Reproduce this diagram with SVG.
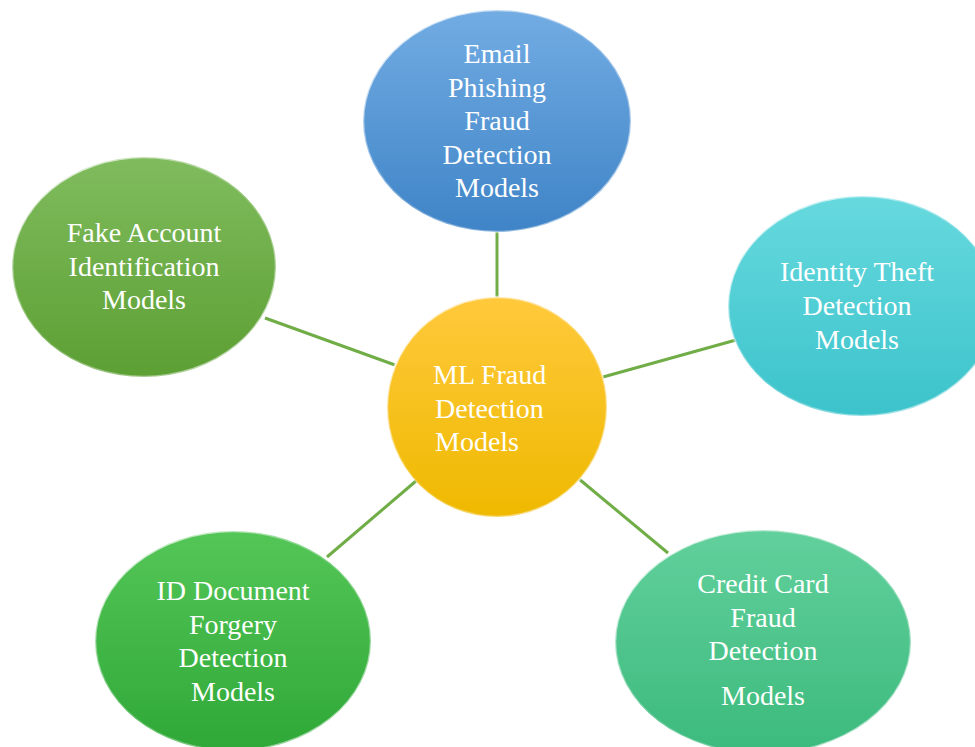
<svg xmlns="http://www.w3.org/2000/svg" width="975" height="747" viewBox="0 0 975 747">
<defs>
<linearGradient id="gBlue" x1="0" y1="0" x2="0" y2="1"><stop offset="0" stop-color="#72ace3"/><stop offset="1" stop-color="#3f84c7"/></linearGradient>
<linearGradient id="gYellow" x1="0" y1="0" x2="0" y2="1"><stop offset="0" stop-color="#ffc93c"/><stop offset="1" stop-color="#efb900"/></linearGradient>
<linearGradient id="gCyan" x1="0" y1="0" x2="0" y2="1"><stop offset="0" stop-color="#66d9de"/><stop offset="1" stop-color="#3cc3cb"/></linearGradient>
<linearGradient id="gOlive" x1="0" y1="0" x2="0" y2="1"><stop offset="0" stop-color="#80bc5e"/><stop offset="1" stop-color="#5c9f33"/></linearGradient>
<linearGradient id="gGreen" x1="0" y1="0" x2="0" y2="1"><stop offset="0" stop-color="#54c657"/><stop offset="1" stop-color="#2fa838"/></linearGradient>
<linearGradient id="gMint" x1="0" y1="0" x2="0" y2="1"><stop offset="0" stop-color="#62d09c"/><stop offset="1" stop-color="#3cba7d"/></linearGradient>
<linearGradient id="rim" x1="0" y1="0" x2="1" y2="1"><stop offset="0" stop-color="#ffffff" stop-opacity="0.9"/><stop offset="0.5" stop-color="#ffffff" stop-opacity="0.2"/><stop offset="1" stop-color="#ffffff" stop-opacity="0.7"/></linearGradient>
</defs>
<style>
.node ellipse{stroke:url(#rim);stroke-width:2.5}
.lbl{font-family:'Times New Roman','Liberation Serif','DejaVu Serif',serif;font-size:28px;fill:#ffffff;text-anchor:middle}
.links line{stroke:#70ad47;stroke-width:3}
</style>
<rect width="975" height="747" fill="#ffffff"/>
<g class="links">
<line x1="497" y1="230" x2="497" y2="299"/>
<line x1="265" y1="318" x2="395" y2="365"/>
<line x1="603" y1="377" x2="736" y2="340"/>
<line x1="416" y1="481" x2="327" y2="557"/>
<line x1="579" y1="479" x2="668" y2="553"/>
</g>
<g id="email" class="node">
<ellipse cx="497" cy="121" rx="134" ry="111" fill="url(#gBlue)"/>
<text class="lbl"><tspan x="497" y="63">Email</tspan><tspan x="497" y="97">Phishing</tspan><tspan x="497" y="130">Fraud</tspan><tspan x="497" y="164">Detection</tspan><tspan x="497" y="197">Models</tspan></text>
</g>
<g id="fake" class="node">
<ellipse cx="144" cy="267" rx="132" ry="110" fill="url(#gOlive)"/>
<text class="lbl"><tspan x="144" y="242">Fake Account</tspan><tspan x="144" y="276">Identification</tspan><tspan x="144" y="309">Models</tspan></text>
</g>
<g id="identity" class="node">
<ellipse cx="862" cy="306" rx="134" ry="110" fill="url(#gCyan)"/>
<text class="lbl"><tspan x="857" y="281">Identity Theft</tspan><tspan x="857" y="315">Detection</tspan><tspan x="857" y="349">Models</tspan></text>
</g>
<g id="iddoc" class="node">
<ellipse cx="233" cy="641" rx="138" ry="110" fill="url(#gGreen)"/>
<text class="lbl"><tspan x="233" y="600">ID Document</tspan><tspan x="233" y="634">Forgery</tspan><tspan x="233" y="667">Detection</tspan><tspan x="233" y="701">Models</tspan></text>
</g>
<g id="credit" class="node">
<ellipse cx="763" cy="642" rx="148" ry="112" fill="url(#gMint)"/>
<text class="lbl"><tspan x="763" y="593">Credit Card</tspan><tspan x="763" y="627">Fraud</tspan><tspan x="763" y="660">Detection</tspan><tspan x="763" y="705">Models</tspan></text>
</g>
<g id="center" class="node">
<ellipse cx="497" cy="407" rx="110" ry="110" fill="url(#gYellow)"/>
<text class="lbl" style="text-anchor:start"><tspan x="433" y="384">ML Fraud</tspan><tspan x="435" y="418">Detection</tspan><tspan x="435" y="451">Models</tspan></text>
</g>
</svg>
